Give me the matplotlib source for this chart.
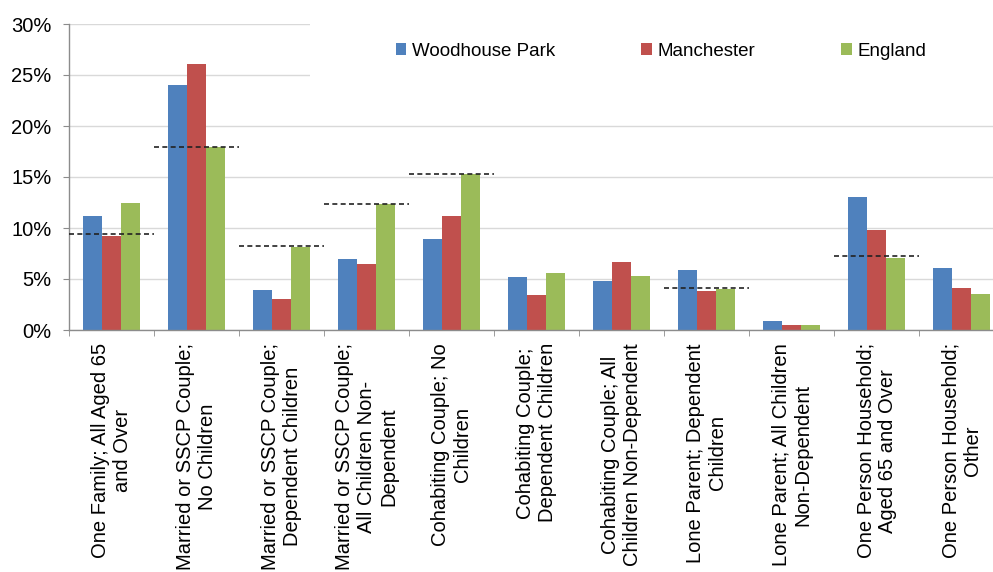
import matplotlib
matplotlib.use("Agg")
import matplotlib.pyplot as plt
import numpy as np
from matplotlib.patches import Rectangle
from matplotlib.ticker import FuncFormatter

plt.rcParams['font.family'] = ['Liberation Sans', 'DejaVu Sans']

categories = [
    "One Family; All Aged 65\nand Over",
    "Married or SSCP Couple;\nNo Children",
    "Married or SSCP Couple;\nDependent Children",
    "Married or SSCP Couple;\nAll Children Non-\nDependent",
    "Cohabiting Couple; No\nChildren",
    "Cohabiting Couple;\nDependent Children",
    "Cohabiting Couple; All\nChildren Non-Dependent",
    "Lone Parent; Dependent\nChildren",
    "Lone Parent; All Children\nNon-Dependent",
    "One Person Household;\nAged 65 and Over",
    "One Person Household;\nOther",
]

series_names = ["Woodhouse Park", "Manchester", "England"]
woodhouse_park = [11.15, 24.0, 3.9, 7.0, 8.9, 5.2, 4.8, 5.85, 0.9, 13.0, 6.1]
manchester = [9.25, 26.1, 3.05, 6.5, 11.15, 3.4, 6.7, 3.8, 0.45, 9.85, 4.15]
england = [12.45, 17.95, 8.15, 12.4, 15.3, 5.6, 5.3, 4.0, 0.45, 7.1, 3.5]
# reference level drawn as a dashed line across some categories
reference_level = [9.38, 17.9, 8.27, 12.4, 15.3, np.nan, np.nan, 4.08, np.nan, 7.22, np.nan]

y_ticks = [0, 5, 10, 15, 20, 25, 30]
colors = ["#4F81BD", "#C0504D", "#9BBB59"]

W, H = 993, 572
fig = plt.figure(figsize=(W / 100, H / 100), dpi=100)
ax = fig.add_axes([69 / W, 1 - 330 / H, (1004 - 69) / W, (330 - 24) / H])

x = np.arange(len(categories))
bar_w = 0.225
handles = []
for i, (vals, c) in enumerate(zip([woodhouse_park, manchester, england], colors)):
    b = ax.bar(x + (i - 1) * bar_w, vals, width=bar_w, color=c, zorder=2,
               label=series_names[i], linewidth=0)
    handles.append(b)

for xi, lvl in zip(x, reference_level):
    if not np.isnan(lvl):
        ax.hlines(lvl, xi - 0.5, xi + 0.5, colors="#222222", linewidth=1.2,
                  linestyles=(0, (3, 2)), zorder=3)

ax.set_xlim(-0.5, len(categories) - 0.5)
ax.set_ylim(0, 30)
ax.set_yticks(y_ticks)
ax.yaxis.set_major_formatter(FuncFormatter(lambda v, p: f"{v:.0f}%"))
ax.grid(axis="y", color="#D9D9D9", linewidth=1.0, zorder=0)
ax.set_axisbelow(True)

for s in ["top", "right"]:
    ax.spines[s].set_visible(False)
for s in ["left", "bottom"]:
    ax.spines[s].set_color("#8C8C8C")
    ax.spines[s].set_linewidth(1.0)

ax.tick_params(axis="y", length=4.5, color="#8C8C8C", pad=8, labelsize=14.5)
ax.set_xticks(x)
ax.set_xticklabels(categories, rotation=90, ha="center", va="top",
                   multialignment="center", fontsize=14.5, linespacing=1.2)
ax.tick_params(axis="x", which="major", length=0, pad=9.5)
ax.set_xticks(np.arange(-0.5, len(categories) + 0.5, 1), minor=True)
ax.tick_params(axis="x", which="minor", length=4.5, color="#8C8C8C", direction="out")

# white band behind the legend (display coords, origin bottom-left)
ax.add_patch(Rectangle((310, H - 100), 720, 100, transform=None,
                       facecolor="white", edgecolor="none", zorder=1))

ax.legend(handles=handles, loc="center", bbox_to_anchor=(661 / W, 1 - 51 / H),
          bbox_transform=fig.transFigure, ncol=3, frameon=False,
          fontsize=13.5, handlelength=0.55, handleheight=0.55,
          handletextpad=0.3, columnspacing=4.6)

fig.savefig("out.png", dpi=100)
